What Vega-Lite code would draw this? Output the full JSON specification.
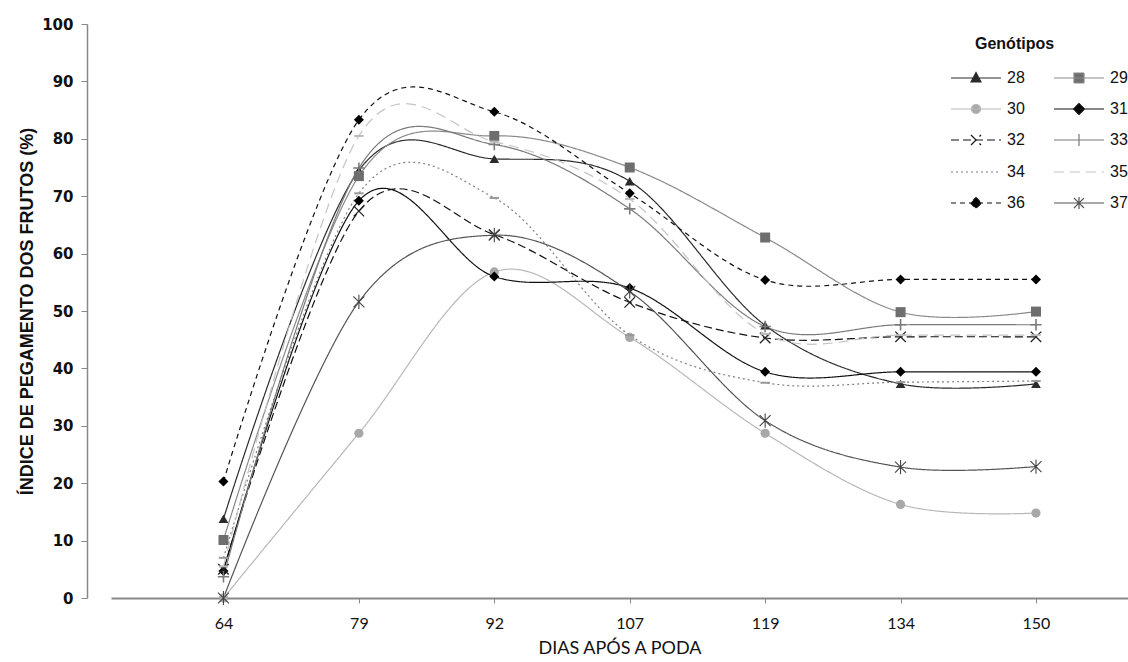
{
  "$schema": "https://vega.github.io/schema/vega-lite/v6.json",
  "width": 1017,
  "height": 574,
  "autosize": {"type": "none"},
  "padding": {"left": 111, "top": 24, "right": 0, "bottom": 64},
  "background": "white",
  "config": {"view": {"stroke": null}},
  "data": {"values": [
    {"g": "28", "d": 64, "v": 13.8}, {"g": "28", "d": 79, "v": 74.5}, {"g": "28", "d": 92, "v": 76.5}, {"g": "28", "d": 107, "v": 72.6}, {"g": "28", "d": 119, "v": 47.5}, {"g": "28", "d": 134, "v": 37.3}, {"g": "28", "d": 150, "v": 37.3},
    {"g": "29", "d": 64, "v": 10.1}, {"g": "29", "d": 79, "v": 73.5}, {"g": "29", "d": 92, "v": 80.5}, {"g": "29", "d": 107, "v": 75.0}, {"g": "29", "d": 119, "v": 62.8}, {"g": "29", "d": 134, "v": 49.8}, {"g": "29", "d": 150, "v": 49.9},
    {"g": "30", "d": 64, "v": 0}, {"g": "30", "d": 79, "v": 28.7}, {"g": "30", "d": 92, "v": 56.8}, {"g": "30", "d": 107, "v": 45.4}, {"g": "30", "d": 119, "v": 28.7}, {"g": "30", "d": 134, "v": 16.3}, {"g": "30", "d": 150, "v": 14.8},
    {"g": "31", "d": 64, "v": 4.7}, {"g": "31", "d": 79, "v": 69.2}, {"g": "31", "d": 92, "v": 56.0}, {"g": "31", "d": 107, "v": 54.0}, {"g": "31", "d": 119, "v": 39.4}, {"g": "31", "d": 134, "v": 39.4}, {"g": "31", "d": 150, "v": 39.4},
    {"g": "32", "d": 64, "v": 5.0}, {"g": "32", "d": 79, "v": 67.4}, {"g": "32", "d": 92, "v": 63.3}, {"g": "32", "d": 107, "v": 51.5}, {"g": "32", "d": 119, "v": 45.3}, {"g": "32", "d": 134, "v": 45.5}, {"g": "32", "d": 150, "v": 45.5},
    {"g": "33", "d": 64, "v": 3.7}, {"g": "33", "d": 79, "v": 74.9}, {"g": "33", "d": 92, "v": 79.0}, {"g": "33", "d": 107, "v": 67.8}, {"g": "33", "d": 119, "v": 47.3}, {"g": "33", "d": 134, "v": 47.6}, {"g": "33", "d": 150, "v": 47.6},
    {"g": "34", "d": 64, "v": 7.0}, {"g": "34", "d": 79, "v": 70.5}, {"g": "34", "d": 92, "v": 69.7}, {"g": "34", "d": 107, "v": 45.8}, {"g": "34", "d": 119, "v": 37.5}, {"g": "34", "d": 134, "v": 37.6}, {"g": "34", "d": 150, "v": 37.8},
    {"g": "35", "d": 64, "v": 5.5}, {"g": "35", "d": 79, "v": 80.5}, {"g": "35", "d": 92, "v": 79.5}, {"g": "35", "d": 107, "v": 69.5}, {"g": "35", "d": 119, "v": 46.0}, {"g": "35", "d": 134, "v": 45.8}, {"g": "35", "d": 150, "v": 45.8},
    {"g": "36", "d": 64, "v": 20.3}, {"g": "36", "d": 79, "v": 83.3}, {"g": "36", "d": 92, "v": 84.7}, {"g": "36", "d": 107, "v": 70.5}, {"g": "36", "d": 119, "v": 55.4}, {"g": "36", "d": 134, "v": 55.5}, {"g": "36", "d": 150, "v": 55.5},
    {"g": "37", "d": 64, "v": 0}, {"g": "37", "d": 79, "v": 51.6}, {"g": "37", "d": 92, "v": 63.2}, {"g": "37", "d": 107, "v": 53.4}, {"g": "37", "d": 119, "v": 30.9}, {"g": "37", "d": 134, "v": 22.8}, {"g": "37", "d": 150, "v": 22.9}
  ]},
  "encoding": {
    "x": {
      "field": "d", "type": "ordinal",
      "scale": {"type": "point", "padding": 0.755, "align": 0.55},
      "axis": {
        "title": "DIAS APÓS A PODA", "labelAngle": 0,
        "domainColor": "#888888", "domainWidth": 2, "tickColor": "#888888", "tickSize": 5, "tickWidth": 1,
        "labelFont": "Lato", "labelFontSize": 16, "labelColor": "#111111", "labelPadding": 12,
        "titleFont": "Lato", "titleFontSize": 18, "titleFontWeight": "normal", "titleColor": "#111111", "titlePadding": 8,
        "grid": false
      }
    },
    "y": {
      "field": "v", "type": "quantitative",
      "scale": {"domain": [0, 100], "nice": false},
      "axis": {
        "title": "ÍNDICE DE PEGAMENTO  DOS FRUTOS (%)", "offset": 24,
        "values": [0, 10, 20, 30, 40, 50, 60, 70, 80, 90, 100],
        "domainColor": "#888888", "domainWidth": 1.5, "tickColor": "#888888", "tickSize": 6,
        "labelFont": "DejaVu Sans", "labelFontWeight": "bold", "labelFontSize": 15, "labelColor": "#111111", "labelPadding": 8,
        "titleFont": "Liberation Sans", "titleFontWeight": "bold", "titleFontSize": 18, "titleColor": "#111111", "titlePadding": 5,
        "grid": false
      }
    }
  },
  "layer": [
    {
      "mark": {"type": "line", "interpolate": "cardinal"},
      "encoding": {
        "color": {
          "field": "g", "type": "nominal",
          "scale": {
            "domain": ["28", "29", "30", "31", "32", "33", "34", "35", "36", "37"],
            "range": ["#2b2b2b", "#8a8a8a", "#b8b8b8", "#111111", "#111111", "#7a7a7a", "#7f7f7f", "#c4c4c4", "#111111", "#555555"]
          },
          "legend": {
            "title": "Genótipos", "orient": "none", "legendX": 854, "legendY": 12,
            "columns": 2, "direction": "horizontal", "columnPadding": 26, "rowPadding": 12, "padding": 0,
            "symbolSize": 400, "labelOffset": 20,
            "labelFont": "Liberation Sans", "labelFontSize": 16, "labelColor": "#111111",
            "titleFont": "Liberation Sans", "titleFontSize": 16, "titleFontWeight": "bold", "titleColor": "#111111", "titlePadding": 15,
            "encode": {
              "title": {"update": {"dx": {"value": 10}}},
              "symbols": {"update": {
                "shape": {"signal": "{'28':'M-2.5,0H2.5M0,-0.55L0.5,0.4H-0.5Z','29':'M-2.5,0H2.5M-0.5,-0.5H0.5V0.5H-0.5Z','30':'M-2.5,0H2.5M-0.45,0A0.45,0.45 0 1,0 0.45,0A0.45,0.45 0 1,0 -0.45,0Z','31':'M-2.5,0H2.5M0,-0.55L0.55,0L0,0.55L-0.55,0Z','32':'M-2.5,0H2.5M-0.5,-0.5L0.5,0.5M-0.5,0.5L0.5,-0.5','33':'M-2.5,0H2.5M0,-0.6V0.6','34':'M-2.5,0H2.5','35':'M-2.5,0H2.5','36':'M-2.5,0H2.5M0,-0.55L0.55,0L0,0.55L-0.55,0Z','37':'M-2.5,0H2.5M-0.5,-0.5L0.5,0.5M-0.5,0.5L0.5,-0.5M0,-0.6V0.6'}[datum.value]"},
                "fill": {"signal": "{'28':'#2b2b2b','29':'#6e6e6e','30':'#a8a8a8','31':'#000000','36':'#000000'}[datum.value] || 'transparent'"}
              }}
            }
          }
        },
        "strokeDash": {
          "field": "g", "type": "nominal",
          "scale": {
            "domain": ["28", "29", "30", "31", "32", "33", "34", "35", "36", "37"],
            "range": [[1, 0], [1, 0], [1, 0], [1, 0], [8, 4], [1, 0], [2, 3], [10, 6], [5, 4], [1, 0]]
          }
        },
        "strokeWidth": {
          "field": "g", "type": "nominal",
          "scale": {
            "domain": ["28", "29", "30", "31", "32", "33", "34", "35", "36", "37"],
            "range": [1.2, 1.2, 1.2, 1.2, 2.5, 2.5, 2, 1.6, 1.5, 1.2]
          }
        }
      }
    },
    {"transform": [{"filter": "datum.g === '28'"}], "mark": {"type": "point", "shape": "triangle-up", "filled": true, "color": "#2b2b2b", "size": 95, "opacity": 1}},
    {"transform": [{"filter": "datum.g === '29'"}], "mark": {"type": "point", "shape": "square", "filled": true, "color": "#6e6e6e", "size": 100, "opacity": 1}},
    {"transform": [{"filter": "datum.g === '30'"}], "mark": {"type": "point", "shape": "circle", "filled": true, "color": "#a8a8a8", "size": 85, "opacity": 1}},
    {"transform": [{"filter": "datum.g === '31'"}], "mark": {"type": "point", "shape": "diamond", "filled": true, "color": "#000000", "size": 100, "opacity": 1}},
    {"transform": [{"filter": "datum.g === '32'"}], "mark": {"type": "point", "shape": "M-1,-1L1,1M-1,1L1,-1", "filled": false, "color": "#222222", "strokeWidth": 1.3, "size": 110, "opacity": 1}},
    {"transform": [{"filter": "datum.g === '33'"}], "mark": {"type": "point", "shape": "M-1.2,0H1.2M0,-1.2V1.2", "filled": false, "color": "#7a7a7a", "strokeWidth": 1.6, "size": 90, "opacity": 1}},
    {"transform": [{"filter": "datum.g === '34'"}], "mark": {"type": "point", "shape": "M-1,0H1", "filled": false, "color": "#999999", "strokeWidth": 2, "size": 90, "opacity": 1}},
    {"transform": [{"filter": "datum.g === '35'"}], "mark": {"type": "point", "shape": "M-1,0H1", "filled": false, "color": "#bbbbbb", "strokeWidth": 2, "size": 90, "opacity": 1}},
    {"transform": [{"filter": "datum.g === '36'"}], "mark": {"type": "point", "shape": "diamond", "filled": true, "color": "#000000", "size": 100, "opacity": 1}},
    {"transform": [{"filter": "datum.g === '37'"}], "mark": {"type": "point", "shape": "M-1,-1L1,1M-1,1L1,-1M0,-1.3V1.3", "filled": false, "color": "#444444", "strokeWidth": 1.1, "size": 120, "opacity": 1}}
  ]
}
